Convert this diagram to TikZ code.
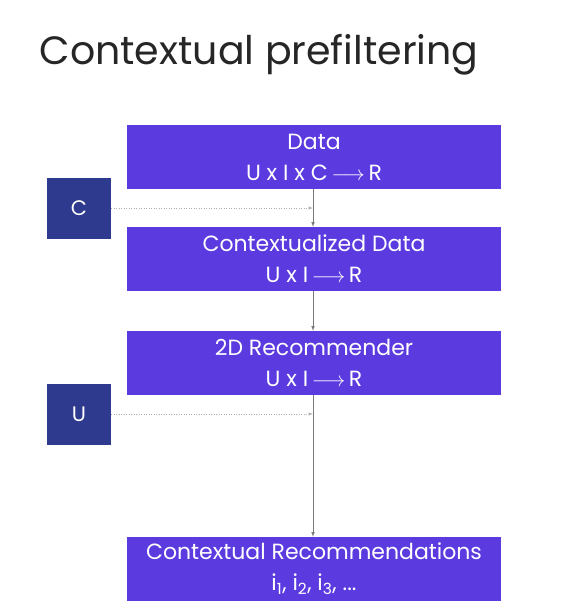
\documentclass[tikz,border=0pt]{standalone}
\usepackage{fontspec}
\setmainfont{Poppins}
\usetikzlibrary{arrows}
\definecolor{boxpurple}{HTML}{5B3BE0}
\definecolor{boxnavy}{HTML}{2E3A8E}
\definecolor{linegray}{HTML}{7A7A7A}
\tikzset{
  stage/.style={fill=boxpurple, text=white, minimum width=374pt, minimum height=64pt,
    align=center, inner sep=0pt, font=\fontsize{22}{31}\selectfont},
  input/.style={fill=boxnavy, text=white, minimum width=64pt, minimum height=61pt,
    inner sep=0pt, font=\fontsize{21}{23}\selectfont},
  flow/.style={draw=linegray, line width=0.6pt, -latex},
  side/.style={draw=linegray!60, dotted, line width=0.5pt, -latex}
}
\newcommand{\maps}{\,$\longrightarrow$\,}
\begin{document}
\begin{tikzpicture}[x=1pt,y=-1pt]
    \useasboundingbox (0,0) rectangle (569,615);

    \node[anchor=base west, font=\fontsize{39.5}{46}\selectfont, text=black!85] (title) at (36,65) {Contextual prefiltering};

    \node[stage] (data) at (314,157) {Data\\U x I x C\maps R};
    \node[stage] (ctxdata) at (314,259) {Contextualized Data\\U x I\maps R};
    \node[stage] (rec) at (314,363) {2D Recommender\\U x I\maps R};
    \node[stage] (out) at (314,569) {Contextual Recommendations\\i\textsubscript{1}, i\textsubscript{2}, i\textsubscript{3}, ...};

    \node[input] (ctx) at (79,208) {C};
    \node[input] (usr) at (79,414) {U};

    \coordinate (j1) at (313,208);
    \coordinate (j2) at (313,414);

    \draw[flow] (data.south -| j1) -- (ctxdata.north -| j1);
    \draw[flow] (ctxdata.south -| j1) -- (rec.north -| j1);
    \draw[flow] (rec.south -| j1) -- (out.north -| j1);
    \draw[side] (ctx.east) -- (j1);
    \draw[side] (usr.east) -- (j2);
\end{tikzpicture}
\end{document}
